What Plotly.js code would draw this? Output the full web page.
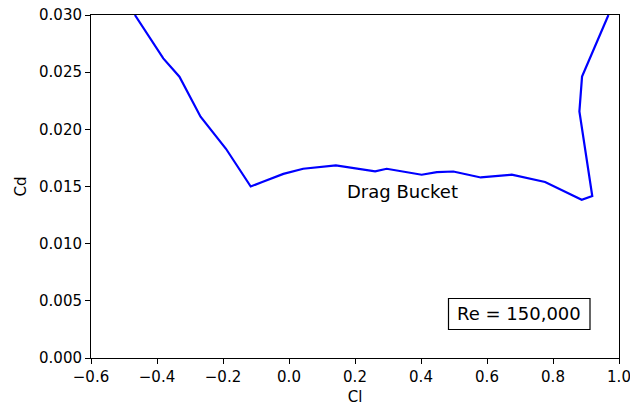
<!DOCTYPE html>
<html>
<head>
<meta charset="utf-8">
<script src="https://cdn.plot.ly/plotly-3.0.1.min.js"></script>
<style>
  html, body { margin: 0; padding: 0; background: #fff; }
  #chart { width: 630px; height: 409px; }
</style>
</head>
<body>
<div id="chart"></div>
<script>
// Drag polar: lift coefficient vs drag coefficient
const cl = [-0.467, -0.446, -0.381, -0.332, -0.268, -0.191, -0.116, -0.081,
            -0.017, 0.043, 0.142, 0.261, 0.296, 0.402, 0.448, 0.498,
            0.581, 0.675, 0.776, 0.887, 0.919, 0.880, 0.888, 0.968];
const cd = [0.0300, 0.0291, 0.0262, 0.0246, 0.0211, 0.0183, 0.0150, 0.0154,
            0.0161, 0.01655, 0.01684, 0.01632, 0.01655, 0.01603, 0.01626, 0.01631,
            0.01579, 0.01603, 0.01539, 0.01384, 0.01417, 0.02156, 0.02461, 0.0300];

const xTicks = [-0.6, -0.4, -0.2, 0.0, 0.2, 0.4, 0.6, 0.8, 1.0];
const yTicks = [0.000, 0.005, 0.010, 0.015, 0.020, 0.025, 0.030];

const bucketLabel = {text: 'Drag Bucket', cl: 0.345, cd: 0.01454};
const reLabel = 'Re = 150,000';

const font = 'DejaVu Sans, sans-serif';

const trace = {
  x: cl,
  y: cd,
  type: 'scatter',
  mode: 'lines',
  line: {color: '#0000ff', width: 2.2},
  hoverinfo: 'skip'
};

const axisCommon = {
  showline: true,
  linecolor: '#000',
  linewidth: 1,
  mirror: true,
  showgrid: false,
  zeroline: false,
  ticks: 'outside',
  ticklen: 5,
  tickwidth: 1,
  tickcolor: '#000',
  ticklabeloverflow: 'allow',
  tickfont: {family: font, size: 15, color: '#000'}
};

const layout = {
  width: 630,
  height: 409,
  margin: {l: 91, r: 11, t: 15, b: 51},
  paper_bgcolor: '#fff',
  plot_bgcolor: '#fff',
  showlegend: false,
  xaxis: Object.assign({}, axisCommon, {
    range: [-0.6, 1.0],
    tickvals: xTicks,
    tickformat: '.1f',
    title: {text: 'Cl', font: {family: font, size: 15, color: '#000'}, standoff: 6}
  }),
  yaxis: Object.assign({}, axisCommon, {
    range: [0, 0.03],
    tickvals: yTicks,
    tickformat: '.3f',
    title: {text: 'Cd', font: {family: font, size: 15, color: '#000'}, standoff: 8}
  }),
  shapes: [{
    type: 'rect',
    xref: 'paper', yref: 'paper',
    x0: (448.5 - 91) / 528, x1: (590 - 91) / 528,
    y0: (358 - 329.5) / 343, y1: (358 - 298.5) / 343,
    line: {color: '#000', width: 1.2},
    fillcolor: '#fff',
    layer: 'above'
  }],
  annotations: [
    {
      x: bucketLabel.cl, y: bucketLabel.cd,
      xref: 'x', yref: 'y',
      text: bucketLabel.text,
      showarrow: false,
      font: {family: font, size: 18, color: '#000'},
      xanchor: 'center', yanchor: 'middle'
    },
    {
      x: (519 - 91) / 528, y: (358 - 313.5) / 343,
      xref: 'paper', yref: 'paper',
      text: reLabel,
      showarrow: false,
      font: {family: font, size: 18, color: '#000'},
      xanchor: 'center', yanchor: 'middle'
    }
  ]
};

Plotly.newPlot('chart', [trace], layout, {staticPlot: true, displayModeBar: false});
</script>
</body>
</html>
